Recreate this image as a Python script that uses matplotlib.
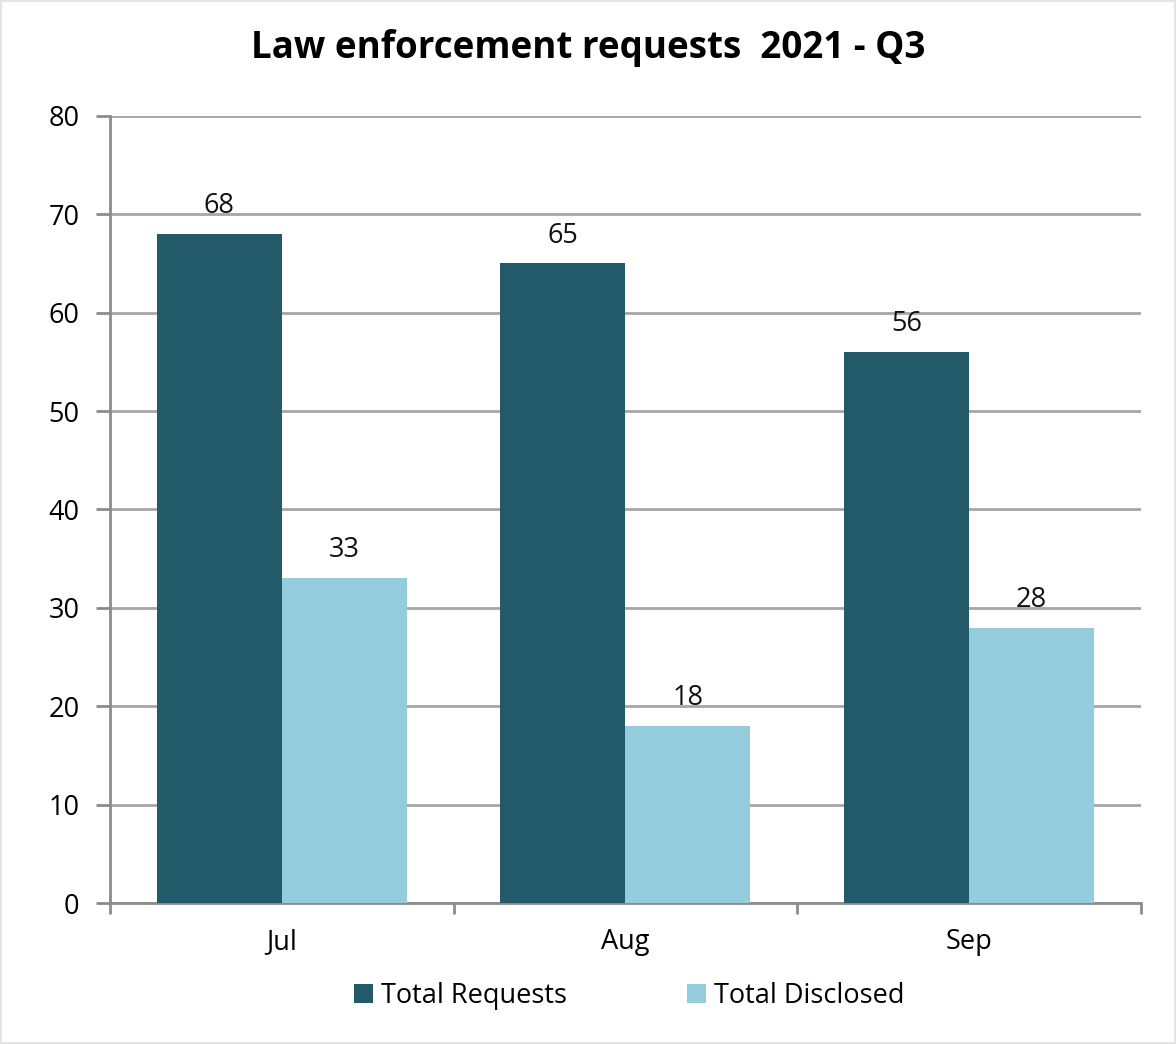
import numpy as np
import matplotlib
matplotlib.use("Agg")
import matplotlib.pyplot as plt

plt.rcParams['font.family'] = ['Open Sans', 'DejaVu Sans']

# Data
months = ['Jul', 'Aug', 'Sep']
total_requests = [68, 65, 56]
total_disclosed = [33, 18, 28]

dark = '#235A69'
light = '#95CCDD'
grid_col = '#A6A6A6'
axis_col = '#8C8C8C'

fig = plt.figure(figsize=(11.76, 10.44), dpi=100, facecolor='white',
                 edgecolor='#E4E4E4', linewidth=1.5)
ax = fig.add_axes([0.0935, 0.135, 0.8765, 0.754])

x = np.arange(len(months))
w = 0.364
b1 = ax.bar(x - w / 2, total_requests, w, color=dark, label='Total Requests', zorder=3)
b2 = ax.bar(x + w / 2, total_disclosed, w, color=light, label='Total Disclosed', zorder=3)

for bars in (b1, b2):
    for rect in bars:
        h = rect.get_height()
        ax.annotate(f'{h:g}', (rect.get_x() + rect.get_width() / 2, h),
                    xytext=(0, 10), textcoords='offset points',
                    ha='center', va='bottom', fontsize=19.5, color='#111111')

ax.set_xlim(-0.5, 2.5)
ax.set_ylim(0, 80)
ax.set_yticks(range(0, 81, 10))
ax.yaxis.grid(True, color=grid_col, linewidth=2, zorder=0)
ax.set_axisbelow(True)

# category labels centred, tick marks at category boundaries
ax.set_xticks(x)
ax.set_xticklabels(months)
ax.set_xticks([-0.5, 0.5, 1.5, 2.5], minor=True)
ax.tick_params(axis='x', which='major', length=0, pad=18, labelsize=19.5)
ax.tick_params(axis='x', which='minor', length=8, width=2, color=axis_col, direction='out')
ax.tick_params(axis='y', length=10, width=2, color=axis_col, pad=12, labelsize=19.5)

for s in ('top', 'right'):
    ax.spines[s].set_visible(False)
for s in ('left', 'bottom'):
    ax.spines[s].set_color(axis_col)
    ax.spines[s].set_linewidth(2)

fig.text(0.5, 0.954, 'Law enforcement requests  2021 - Q3', ha='center', va='center',
         fontsize=26.5, fontweight='bold', color='black')

fig.legend(handles=[b1, b2], loc='center', bbox_to_anchor=(0.535, 0.046), ncol=2,
           frameon=False, fontsize=19.5, handlelength=0.7, handleheight=0.7,
           handletextpad=0.3, columnspacing=4.45)

fig.savefig('out.png', dpi=100, facecolor='white', edgecolor=fig.get_edgecolor())
